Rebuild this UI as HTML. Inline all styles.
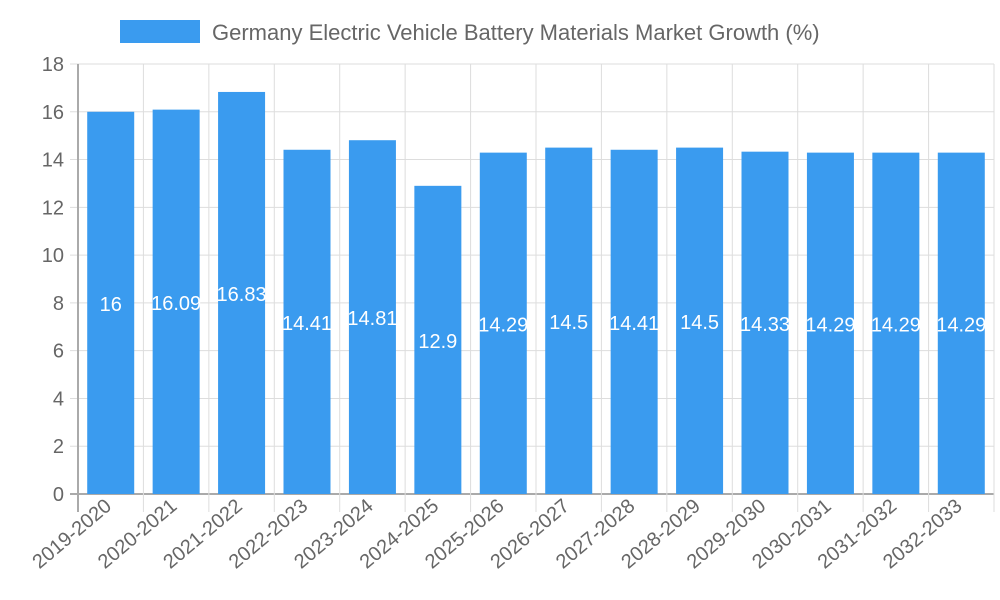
<!DOCTYPE html>
<html><head><meta charset="utf-8"><style>
body{margin:0;background:#fff;}
svg{display:block;font-family:"Liberation Sans",sans-serif;}
</style></head><body>
<svg id="c" width="1000" height="600">
<g>
<rect x="120" y="20" width="80" height="23" fill="#3a9bef"></rect>
<text x="212" y="40" font-size="22" fill="#666">Germany Electric Vehicle Battery Materials Market Growth (%)</text>
</g>
</svg>
<script>
const categories=["2019-2020","2020-2021","2021-2022","2022-2023","2023-2024","2024-2025","2025-2026","2026-2027","2027-2028","2028-2029","2029-2030","2030-2031","2031-2032","2032-2033"];
const values=[16,16.09,16.83,14.41,14.81,12.9,14.29,14.5,14.41,14.5,14.33,14.29,14.29,14.29];
const yTicks=[0,2,4,6,8,10,12,14,16,18];
const NS="http://www.w3.org/2000/svg";
const svg=document.getElementById('c');
const L=78,R=994,T=64,B=494,yMax=18;
const bw=(R-L)/categories.length;
const y=v=>B-(v/yMax)*(B-T);
const x=i=>L+i*bw;
function mk(t,a){const e=document.createElementNS(NS,t);for(const k in a)e.setAttribute(k,a[k]);svg.appendChild(e);return e;}
yTicks.forEach(v=>{
  const g=mk('line',{x1:L-8,x2:R,y1:y(v),y2:y(v),stroke:v===0?'#aaa':'#ddd','stroke-width':v===0?2:1});
  
  
  const t=mk('text',{x:L-14,y:y(v)+7,'text-anchor':'end','font-size':20,fill:'#666'});
  t.textContent=v;
  
  
});
for(let i=0;i<=categories.length;i++){
  const g=mk('line',{x1:x(i),x2:x(i),y1:T,y2:B+18,stroke:i===0?'#aaa':'#ddd','stroke-width':i===0?2:1});
  
  
}
categories.forEach((c,i)=>{
  const cx=x(i)+bw/2;
  const r=mk('rect',{x:cx-23.5,y:y(values[i]),width:47,height:B-y(values[i]),fill:'#3a9bef'});
  
  
  const t=mk('text',{transform:`translate(${cx+2},${B+14}) rotate(-40)`,'text-anchor':'end','font-size':20,fill:'#666'});
  t.textContent=c;
  
  
});
categories.forEach((c,i)=>{
  const cx=x(i)+bw/2;
  const t=mk('text',{x:cx,y:(y(values[i])+B)/2+8,'text-anchor':'middle','font-size':20,fill:'#fff'});
  t.textContent=values[i];
  
  
});
</script>
</body></html>
